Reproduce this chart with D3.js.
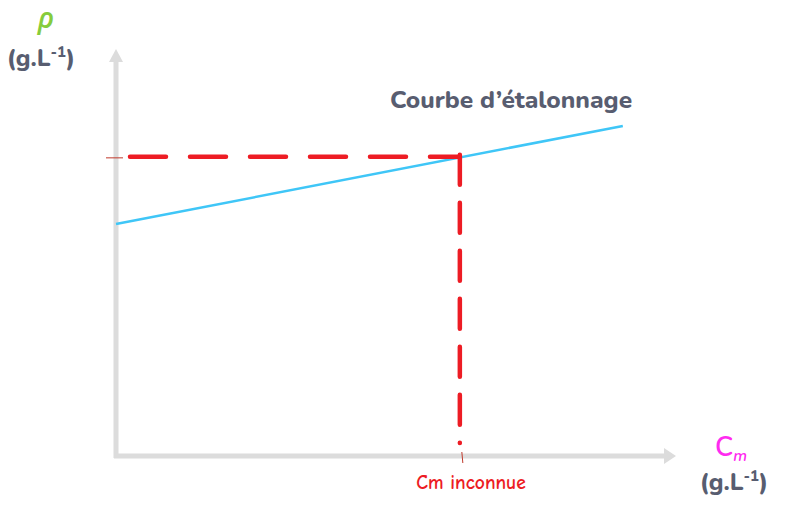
<!DOCTYPE html>
<html><head><meta charset="utf-8">
<script src="https://cdn.jsdelivr.net/npm/d3@7"></script>
<style>body{margin:0;background:#fff}svg{display:block}</style>
</head><body>
<svg id="c" width="809" height="513"></svg>
<script>
// data
const curveX = [0, 9.05];
const curveY = [5.70, 8.11];
const unknownX = [6.14];
const unknownY = [7.35];
const labels = ["Courbe d\u2019étalonnage", "Cm inconnue"];

const svg = d3.select("#c");
const x = d3.scaleLinear().domain([0, 10]).range([116, 676]);
const y = d3.scaleLinear().domain([0, 10]).range([456, 49]);

const axisCol = "#dcdcdc";
// axes
svg.append("line").attr("x1", x(0)).attr("x2", x(0)).attr("y1", y(0) + 2).attr("y2", y(10) + 12)
  .attr("stroke", axisCol).attr("stroke-width", 5);
svg.append("line").attr("x1", x(0) - 2).attr("x2", x(10) - 10).attr("y1", y(0)).attr("y2", y(0))
  .attr("stroke", axisCol).attr("stroke-width", 5);
svg.append("path").attr("d", `M${x(0)},${y(10)} L${x(0) - 7},${y(10) + 13} L${x(0) + 7},${y(10) + 13}Z`).attr("fill", axisCol);
svg.append("path").attr("d", `M${x(10)},${y(0)} L${x(10) - 12},${y(0) - 8} L${x(10) - 12},${y(0) + 8}Z`).attr("fill", axisCol);

// calibration curve
const pts = curveX.map((d, i) => [d, curveY[i]]);
svg.append("path").attr("d", d3.line().x(d => x(d[0])).y(d => y(d[1]))(pts))
  .attr("fill", "none").attr("stroke", "#3fc6f7").attr("stroke-width", 2.5);

// small ticks
svg.append("line").attr("x1", x(0) - 10).attr("x2", x(0) + 7).attr("y1", y(unknownY[0]) + 1).attr("y2", y(unknownY[0]) + 1)
  .attr("stroke", "#c0392b").attr("stroke-width", 1);
svg.append("line").attr("x1", x(unknownX[0]) + 2).attr("x2", x(unknownX[0]) + 3).attr("y1", y(0) - 4).attr("y2", y(0) + 7)
  .attr("stroke", "#c0392b").attr("stroke-width", 1);

// dashed construction lines
const red = "#ed1c24";
svg.append("line").attr("x1", x(0) + 14).attr("x2", x(unknownX[0])).attr("y1", y(unknownY[0])).attr("y2", y(unknownY[0]))
  .attr("stroke", red).attr("stroke-width", 4.5).attr("stroke-linecap", "round").attr("stroke-dasharray", "36,24");
svg.append("line").attr("x1", x(unknownX[0])).attr("x2", x(unknownX[0])).attr("y1", y(unknownY[0]) - 2).attr("y2", y(0) - 13)
  .attr("stroke", red).attr("stroke-width", 4.5).attr("stroke-linecap", "round").attr("stroke-dasharray", "30,18");

// texts
const gray = "#585d70";
const font = "'Nunito','Open Sans','Lato',sans-serif";
svg.append("text").attr("x", 511).attr("y", 108).attr("text-anchor", "middle")
  .attr("font-family", font).attr("font-weight", 800).attr("font-size", 24.5).attr("fill", gray).text(labels[0]);
svg.append("text").attr("x", 471).attr("y", 489).attr("text-anchor", "middle")
  .attr("font-family", "'Comic Sans MS','Comic Neue',cursive,sans-serif").attr("font-weight", 600).attr("font-size", 19.5).attr("fill", red).text(labels[1]);

// y label
svg.append("text").attr("x", 46).attr("y", 28).attr("text-anchor", "middle")
  .attr("font-family", font).attr("font-style", "italic").attr("font-weight", 600).attr("font-size", 28).attr("fill", "#86cc3c").text("\u03c1");
const yl = svg.append("text").attr("x", 41).attr("y", 66).attr("text-anchor", "middle")
  .attr("font-family", font).attr("font-weight", 800).attr("font-size", 24).attr("fill", gray);
yl.append("tspan").text("(g.L");
yl.append("tspan").attr("dy", -9).attr("font-size", 15).text("-1");
yl.append("tspan").attr("dy", 9).text(")");

// x label
const xl = svg.append("text").attr("x", 731).attr("y", 456).attr("text-anchor", "middle")
  .attr("font-family", font).attr("font-weight", 600).attr("font-size", 27).attr("fill", "#ff2bf0");
xl.append("tspan").text("C");
xl.append("tspan").attr("dy", 5).attr("font-size", 16).attr("font-style", "italic").text("m");
const xl2 = svg.append("text").attr("x", 734).attr("y", 490).attr("text-anchor", "middle")
  .attr("font-family", font).attr("font-weight", 800).attr("font-size", 24).attr("fill", gray);
xl2.append("tspan").text("(g.L");
xl2.append("tspan").attr("dy", -9).attr("font-size", 15).text("-1");
xl2.append("tspan").attr("dy", 9).text(")");
</script>
</body></html>
